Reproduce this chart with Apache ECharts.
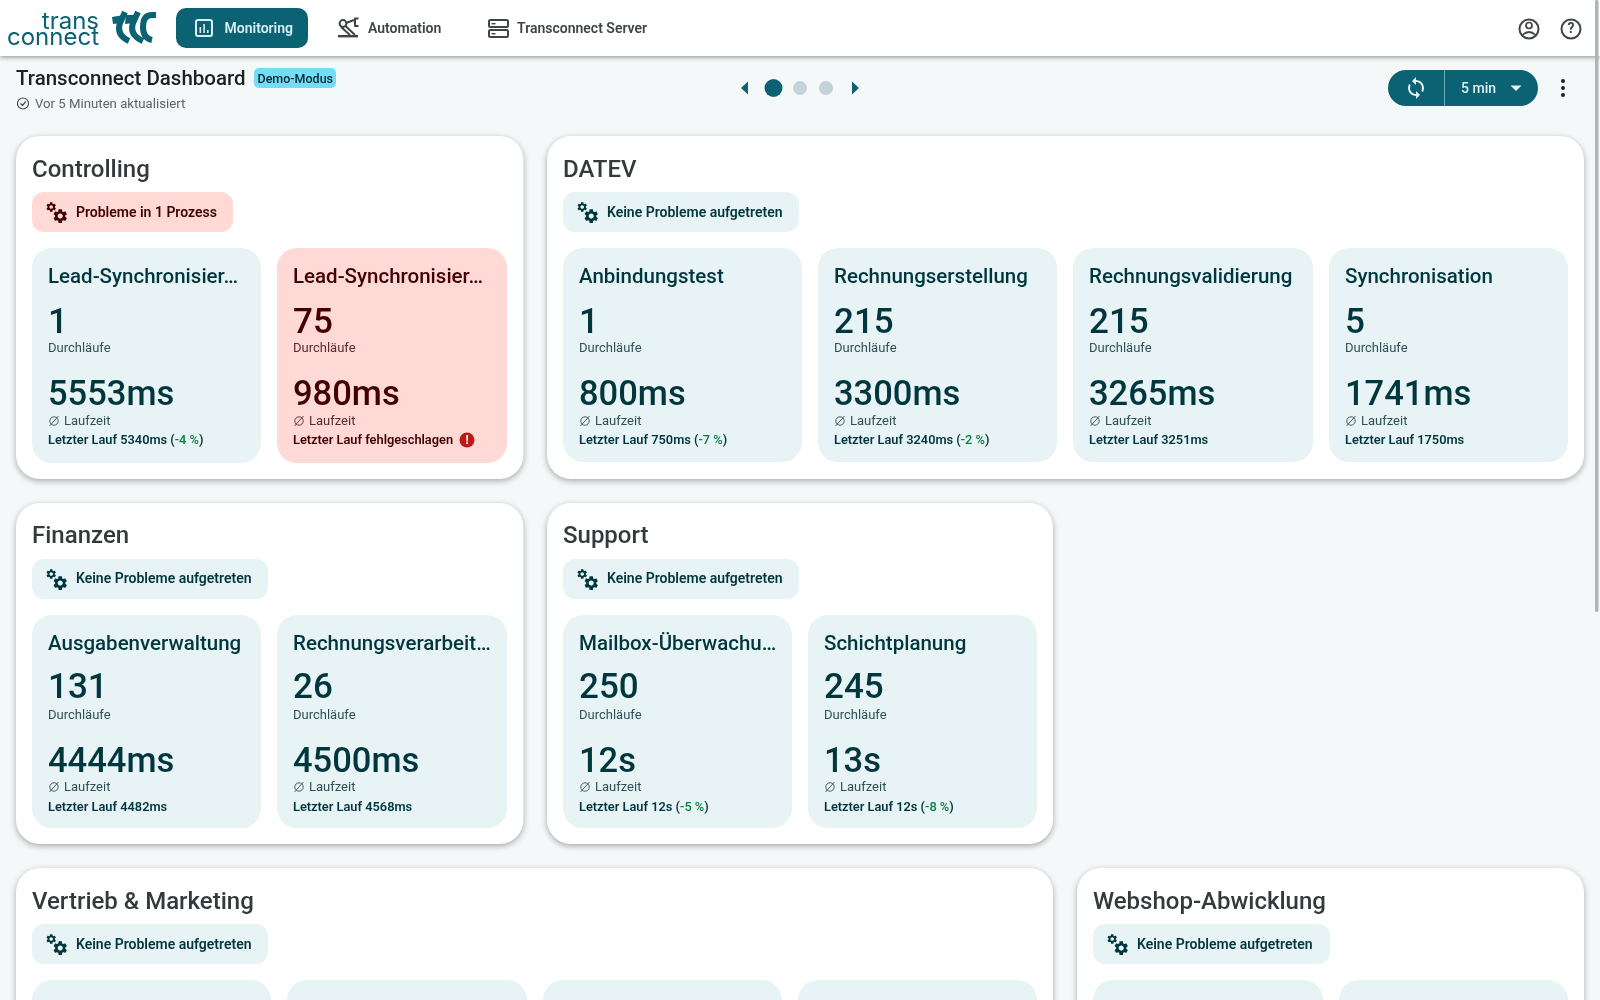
<!DOCTYPE html>
<html lang="de">
<head>
<meta charset="utf-8">
<title>Transconnect Dashboard</title>
<script src="https://cdn.jsdelivr.net/npm/echarts@6/dist/echarts.min.js"></script>
<style>
  html, body { margin: 0; padding: 0; background: #f4f8f9; overflow: hidden; }
  #main { width: 1600px; height: 1000px; }
</style>
</head>
<body>
<div id="main"></div>
<script>
const navLabels = ["Monitoring", "Automation", "Transconnect Server"];
const groupNames = ["Controlling", "DATEV", "Finanzen", "Support", "Vertrieb & Marketing", "Webshop-Abwicklung"];
const groupStatus = [
  "Probleme in 1 Prozess",
  "Keine Probleme aufgetreten",
  "Keine Probleme aufgetreten",
  "Keine Probleme aufgetreten",
  "Keine Probleme aufgetreten",
  "Keine Probleme aufgetreten",
];
const processNames = [
  ["Lead-Synchronisier…", "Lead-Synchronisier…"],
  ["Anbindungstest", "Rechnungserstellung", "Rechnungsvalidierung", "Synchronisation"],
  ["Ausgabenverwaltung", "Rechnungsverarbeit…"],
  ["Mailbox-Überwachu…", "Schichtplanung"],
];
const runCounts = [
  ["1", "75"],
  ["1", "215", "215", "5"],
  ["131", "26"],
  ["250", "245"],
];
const avgRuntimes = [
  ["5553ms", "980ms"],
  ["800ms", "3300ms", "3265ms", "1741ms"],
  ["4444ms", "4500ms"],
  ["12s", "13s"],
];
const lastRuns = [
  ["5340ms", null],
  ["750ms", "3240ms", "3251ms", "1750ms"],
  ["4482ms", "4568ms"],
  ["12s", "12s"],
];
const lastDeltas = [
  ["-4 %", null],
  ["-7 %", "-2 %", null, null],
  [null, null],
  ["-5 %", "-8 %"],
];

const colors = {
  page: "#f4f8f9",
  teal: "#0a6272",
  tile: "#e8f3f5",
  tileInk: "#00363d",
  tileSoft: "#2f5057",
  red: "#ffd9d6",
  redInk: "#410002",
  redSoft: "#5c2a2a",
  heading: "#343a3c",
  nav: "#3d4547",
  green: "#0a8043",
};

const FONT = "Roboto, sans-serif";

const registerIcon = (name, d) => echarts.graphic.registerShape(name, echarts.graphic.extendPath(d));

registerIcon("gearIcon", "M19.14 12.94c.04-.3.06-.61.06-.94 0-.32-.02-.64-.07-.94l2.03-1.58c.18-.14.23-.41.12-.61l-1.92-3.32c-.12-.22-.37-.29-.59-.22l-2.39.96c-.5-.38-1.03-.7-1.62-.94l-.36-2.54c-.04-.24-.24-.41-.48-.41h-3.84c-.24 0-.43.17-.47.41l-.36 2.54c-.59.24-1.13.57-1.62.94l-2.39-.96c-.22-.08-.47 0-.59.22L2.74 8.87c-.12.21-.08.47.12.61l2.03 1.58c-.05.3-.09.63-.09.94s.02.64.07.94l-2.03 1.58c-.18.14-.23.41-.12.61l1.92 3.32c.12.22.37.29.59.22l2.39-.96c.5.38 1.03.7 1.62.94l.36 2.54c.05.24.24.41.48.41h3.84c.24 0 .44-.17.47-.41l.36-2.54c.59-.24 1.13-.56 1.62-.94l2.39.96c.22.08.47 0 .59-.22l1.92-3.32c.12-.22.07-.47-.12-.61l-2.01-1.58zM12 15.6c-1.98 0-3.6-1.62-3.6-3.6s1.62-3.6 3.6-3.6 3.6 1.62 3.6 3.6-1.62 3.6-3.6 3.6z");
registerIcon("syncIcon", "M12 4V1L8 5l4 4V6c3.31 0 6 2.69 6 6 0 1.01-.25 1.97-.7 2.8l1.46 1.46C19.54 15.03 20 13.57 20 12c0-4.42-3.58-8-8-8zm0 14c-3.31 0-6-2.69-6-6 0-1.01.25-1.97.7-2.8L5.24 7.74C4.46 8.97 4 10.43 4 12c0 4.42 3.58 8 8 8v3l4-4-4-4v3z");
registerIcon("markT1", "M125 12 L120 23 Q116 35 129 41");
registerIcon("markT2", "M138 12 L133 23 Q129 35 143 41");
registerIcon("markC", "M156 15 L152 15 Q143 15 143 27 Q143 38 152 40");
registerIcon("shoulders", "M1522.5 35 Q1529 29 1535.5 35");

const elements = [];

const addRect = (x, y, width, height, r, fill, extra = {}) => {
  elements.push({ type: "rect", silent: true, shape: { x, y, width, height, r }, style: { fill, ...extra } });
};

const addText = (x, y, text, size, weight, fill, align = "left", family = FONT) => {
  elements.push({
    type: "text",
    silent: true,
    style: {
      x, y, text, fill,
      font: `${weight} ${size}px ${family}`,
      textAlign: align,
      textVerticalAlign: "middle",
    },
  });
};

const addCircle = (cx, cy, r, fill, stroke, lineWidth = 0) => {
  elements.push({
    type: "circle",
    silent: true,
    shape: { cx, cy, r },
    style: { fill: fill || "none", stroke: stroke || "none", lineWidth },
  });
};

const addLine = (points, stroke, lineWidth, lineCap = "butt") => {
  elements.push({
    type: "polyline",
    silent: true,
    shape: { points },
    style: { fill: "none", stroke, lineWidth, lineCap, lineJoin: "round" },
  });
};

const addPolygon = (points, fill) => {
  elements.push({ type: "polygon", silent: true, shape: { points }, style: { fill } });
};

const addIcon = (type, x, y, scaleX, scaleY, style) => {
  elements.push({ type, silent: true, x, y, scaleX, scaleY, style });
};

const drawLogo = () => {
  addText(99, 21.5, "trans", 24, 400, colors.teal, "right", "Inter");
  addText(99, 37.5, "connect", 24, 400, colors.teal, "right", "Inter");
  const markStroke = { fill: "none", stroke: colors.teal, lineWidth: 6 };
  addIcon("markT1", 0, 0, 1, 1, markStroke);
  addIcon("markT2", 0, 0, 1, 1, markStroke);
  addIcon("markC", 0, 0, 1, 1, markStroke);
  addPolygon([[112, 17], [124, 15], [122, 23], [113, 24]], colors.teal);
  addPolygon([[126, 15], [136, 15], [134, 23], [125, 24]], colors.teal);
};

const drawHeader = () => {
  addRect(0, 0, 1600, 56, 0, "#ffffff", { shadowBlur: 5, shadowColor: "rgba(0,0,0,0.45)", shadowOffsetY: 1 });
  drawLogo();

  addRect(176, 8, 132, 40, 10, colors.teal);
  addRect(196, 20, 16, 16, 2, "none", { stroke: "#d8eef3", lineWidth: 2 });
  addRect(199.5, 27, 1.6, 6, 0, "#d8eef3");
  addRect(203.3, 24, 1.6, 9, 0, "#d8eef3");
  addRect(207, 30, 1.6, 3, 0, "#d8eef3");
  addText(224.5, 29, navLabels[0], 14, 600, "#d8eef3");

  addRect(338, 35, 20, 2.4, 0, colors.nav);
  addCircle(343, 23.5, 3.4, "none", colors.nav, 2);
  addLine([[341, 27], [350, 35]], colors.nav, 2);
  addLine([[345.5, 26], [355, 35]], colors.nav, 2);
  addLine([[346, 23], [354, 20]], colors.nav, 2);
  addLine([[358.5, 18.5], [355, 18.5], [355, 26], [358.5, 26]], colors.nav, 2);
  addText(368, 29, navLabels[1], 14, 600, colors.nav);

  addRect(489, 20, 19, 7, 1.5, "none", { stroke: colors.nav, lineWidth: 2 });
  addRect(489, 30, 19, 7, 1.5, "none", { stroke: colors.nav, lineWidth: 2 });
  addRect(491.5, 23, 4, 1.4, 0, colors.nav);
  addRect(491.5, 33, 4, 1.4, 0, colors.nav);
  addText(517, 29, navLabels[2], 14, 600, colors.nav);

  addCircle(1529, 29, 9.5, "none", colors.nav, 2);
  addCircle(1529, 25.5, 3, "none", colors.nav, 1.7);
  addIcon("shoulders", 0, 0, 1, 1, { fill: "none", stroke: colors.nav, lineWidth: 1.7 });
  addCircle(1571, 29, 9.5, "none", colors.nav, 2);
  addText(1571, 29.5, "?", 14, 700, colors.nav, "center");

  addRect(1595, 0, 3.5, 612, 1.5, "#b0b5b5");
};

const drawToolbar = () => {
  addText(16, 80, "Transconnect Dashboard", 20.5, 500, "#1c2022");
  addRect(254, 68, 82, 20, 5, "#74dcf4");
  addText(257.5, 79.5, "Demo-Modus", 12.5, 500, "#06282f");

  addCircle(23, 103.5, 5.5, "none", "#454d50", 1.2);
  addLine([[20.5, 103.5], [22.5, 105.5], [25.8, 101.5]], "#454d50", 1.2);
  addText(35, 104.5, "Vor 5 Minuten aktualisiert", 13.2, 400, "#5a6568");

  addPolygon([[748, 81.5], [748, 94.5], [741, 88]], colors.teal);
  addCircle(773.5, 88, 9, colors.teal);
  addCircle(800, 88, 7, "#c2d3d9");
  addCircle(826, 88, 7, "#c2d3d9");
  addPolygon([[852, 81.5], [852, 94.5], [859, 88]], colors.teal);

  addRect(1388, 70, 150, 36, 18, colors.teal);
  addRect(1444, 70, 1, 36, 0, "#6da5b0");
  addIcon("syncIcon", 1404, 76, 1, 1, { fill: "#e0f0f3" });
  addText(1461, 89.5, "5 min", 14, 500, "#e0f0f3");
  addPolygon([[1510.5, 85.5], [1521.5, 85.5], [1516, 91]], "#e0f0f3");

  [81, 88, 95].forEach((cy) => addCircle(1563, cy, 2, "#1c2022"));
};

const drawGears = (x, y, fill) => {
  addIcon("gearIcon", x + 13.2, y + 9, 0.5, 0.5, { fill });
  addIcon("gearIcon", x + 19.7, y + 15.6, 0.71, 0.71, { fill });
};

const drawTile = (box, name, runs, runtime, last, delta) => {
  const failed = last === null;
  const ink = failed ? colors.redInk : colors.tileInk;
  const soft = failed ? colors.redSoft : colors.tileSoft;
  addRect(box.x, box.y, box.w, box.h, 20, failed ? colors.red : colors.tile);
  const left = box.x + 16;
  addText(left, box.y + 30, name, 20.5, 500, ink);
  addText(left, box.y + box.runsY, runs, 35, 500, ink);
  addText(left, box.y + 100.5, "Durchläufe", 13, 400, soft);
  addText(left, box.y + 148.5, runtime, 34.5, 500, ink);

  addCircle(left + 6, box.y + box.labelY - 1, 4.2, "none", soft, 0.9);
  addLine([[left + 1.5, box.y + box.labelY + 4], [left + 10.5, box.y + box.labelY - 6]], soft, 0.9);
  addText(left + 16, box.y + box.labelY, "Laufzeit", 13, 400, soft);

  if (failed) {
    addText(left, box.y + 192.5, "Letzter Lauf fehlgeschlagen", 12.8, 600, ink);
    addCircle(left + 174, box.y + 192, 7.5, "#ba1a1a");
    addText(left + 174, box.y + 192.5, "!", 12, 700, "#ffffff", "center");
    return;
  }
  const base = `${"Letzter Lauf " + last}`;
  const shared = { fontFamily: "Roboto", fontSize: 12.8, fontWeight: 600, fill: ink };
  elements.push({
    type: "text",
    silent: true,
    style: {
      x: left,
      y: box.y + 192.5,
      text: delta ? `{a|${base} (}{g|${delta}}{a|)}` : `{a|${base}}`,
      textVerticalAlign: "middle",
      rich: { a: shared, g: { ...shared, fill: colors.green, fontWeight: 500 } },
    },
  });
};

const drawGroup = (card, tileBoxes, index) => {
  addRect(card.x, card.y, card.w, card.h, 24, "#ffffff", {
    shadowBlur: 6,
    shadowColor: "rgba(0,0,0,0.32)",
    shadowOffsetY: 2,
  });
  const left = card.x + 16;
  const alert = index === 0;
  addText(left, card.titleY, groupNames[index], 24, 500, colors.heading);

  const pillY = card.y + 56;
  addRect(left, pillY, card.pill, 40, 12, alert ? colors.red : colors.tile);
  drawGears(left, pillY, alert ? colors.redInk : colors.tileInk);
  addText(left + 44, pillY + card.pillText, groupStatus[index], 14, 600, alert ? colors.redInk : colors.tileInk);

  tileBoxes.forEach((box, i) => {
    if (index < processNames.length) {
      drawTile(box, processNames[index][i], runCounts[index][i], avgRuntimes[index][i], lastRuns[index][i], lastDeltas[index][i]);
    } else {
      addRect(box.x, box.y, box.w, box.h, 20, colors.tile);
    }
  });
};

// layout of the six cards, in page pixels
const row = (y, h, runsY, labelY, spans) => spans.map(([x, x2]) => ({ x, y, w: x2 - x, h, runsY, labelY }));
const cardLayout = [
  { x: 16, y: 136, w: 507.5, h: 343, pill: 201, titleY: 170.5, pillText: 21.5 },
  { x: 547, y: 136, w: 1037, h: 343, pill: 236, titleY: 170.5, pillText: 21.5 },
  { x: 16, y: 503, w: 507.5, h: 341, pill: 236, titleY: 536.5, pillText: 20.5 },
  { x: 547, y: 503, w: 506, h: 341, pill: 236, titleY: 536.5, pillText: 20.5 },
  { x: 16, y: 868, w: 1037, h: 340, pill: 236, titleY: 902.5, pillText: 21.5 },
  { x: 1077, y: 868, w: 507, h: 340, pill: 237, titleY: 902.5, pillText: 21.5 },
];
const tileLayout = [
  row(248, 215, 76, 174, [[32, 261], [277, 507]]),
  row(248, 214, 76, 174, [[563, 802], [818, 1057], [1073, 1313], [1329, 1568]]),
  row(615, 213, 74.5, 173, [[32, 261], [277, 507]]),
  row(615, 213, 74.5, 173, [[563, 792], [808, 1037]]),
  row(980, 213, 76, 174, [[32, 271], [287, 527], [543, 782], [798, 1037]]),
  row(980, 213, 76, 174, [[1093, 1323], [1339, 1568]]),
];

cardLayout.forEach((card, i) => drawGroup(card, tileLayout[i], i));
drawToolbar();
drawHeader();

const chart = echarts.init(document.getElementById("main"));
chart.setOption({
  backgroundColor: colors.page,
  animation: false,
  graphic: { elements },
});
</script>
</body>
</html>
